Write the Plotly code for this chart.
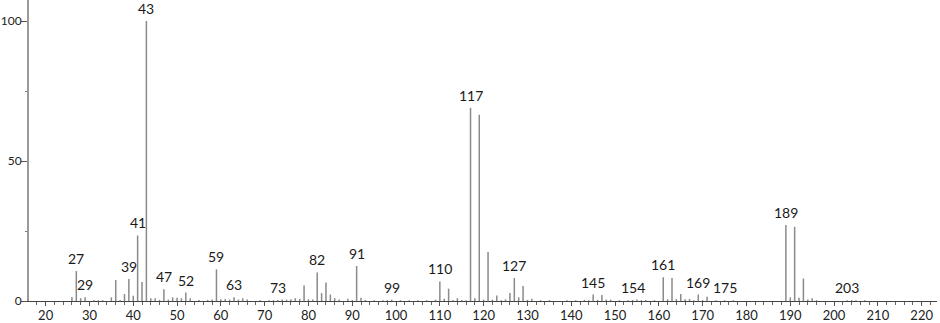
import plotly.graph_objects as go

mz = [26, 27, 28, 29, 31, 32, 33, 35, 36, 37, 38, 39, 40, 41, 42, 43, 44, 45, 46, 47, 48, 49, 50, 51, 52, 53,
      55, 57, 58, 59, 60, 61, 62, 63, 64, 65, 66, 69, 71, 72, 73, 74, 75, 76, 77, 78, 79, 80, 81, 82, 83, 84,
      85, 86, 87, 89, 90, 91, 92, 93, 95, 97, 98, 99, 101, 103, 105, 107, 109, 110, 111, 112, 113, 114, 115,
      116, 117, 118, 119, 120, 121, 122, 123, 124, 125, 126, 127, 128, 129, 130, 131, 133, 135, 139, 141, 143,
      144, 145, 146, 147, 148, 149, 151, 153, 154, 155, 156, 157, 159, 161, 162, 163, 164, 165, 166, 167, 168,
      169, 170, 171, 173, 175, 177, 189, 190, 191, 192, 193, 194, 195, 196, 203, 204, 205, 207]
intensity = [1.4, 10.7, 1.0, 1.3, 0.4, 0.3, 0.3, 1.3, 7.5, 0.4, 2.5, 7.9, 1.9, 23.4, 6.8, 100, 1.0, 1.0, 0.4, 4.2,
             0.5, 1.3, 1.2, 1.0, 3.0, 1.0, 0.4, 0.4, 0.5, 11.3, 0.6, 0.7, 0.5, 1.3, 0.5, 1.0, 0.5, 0.3, 0.3, 0.3,
             0.4, 0.5, 0.5, 0.6, 1.0, 0.8, 5.5, 0.6, 0.5, 10.2, 2.8, 6.6, 2.3, 1.0, 0.5, 0.8, 0.4, 12.5, 1.2, 0.4,
             0.3, 0.3, 0.3, 0.5, 0.3, 0.3, 0.3, 0.3, 0.5, 7.0, 0.8, 4.4, 0.4, 1.0, 0.4, 0.3, 69.0, 1.0, 66.5, 0.5,
             17.5, 0.5, 2.0, 0.3, 0.6, 2.9, 8.2, 1.3, 5.4, 0.4, 0.8, 0.3, 0.3, 0.3, 0.3, 0.4, 0.3, 2.3, 0.4, 2.1,
             0.5, 0.5, 0.3, 0.3, 0.4, 0.5, 0.3, 0.4, 0.3, 8.5, 0.6, 8.2, 0.7, 2.5, 0.6, 0.7, 0.3, 2.3, 0.3, 1.5,
             0.3, 0.3, 0.3, 27.1, 1.3, 26.5, 1.2, 8.0, 0.5, 1.0, 0.3, 0.3, 0.3, 0.3, 0.3]

labeled_mz = [27, 29, 39, 41, 43, 47, 52, 59, 63, 73, 82, 91, 99, 110, 117, 127, 145, 154, 161, 169, 175, 189, 203]

x_ticks = list(range(20, 221, 10))
y_ticks = [0, 50, 100]

# stick spectrum built from the data arrays
sx, sy = [], []
for m, v in zip(mz, intensity):
    sx += [m, m, None]
    sy += [0, v, None]

fig = go.Figure()
fig.add_trace(go.Scatter(x=sx, y=sy, mode="lines",
                         line=dict(color="#8a8a8a", width=1.5),
                         hoverinfo="skip", showlegend=False))

lookup = dict(zip(mz, intensity))
for m in labeled_mz:
    fig.add_annotation(x=m, y=lookup.get(m, 0), text=str(m), showarrow=False,
                       xanchor="center", yanchor="bottom", yshift=2,
                       font=dict(family="Lato, Noto Sans, sans-serif", size=14, color="#1a1a1a"))

fig.update_layout(
    width=940, height=323,
    margin=dict(l=29, r=3, t=0, b=22),
    paper_bgcolor="white", plot_bgcolor="white",
    showlegend=False,
)
fig.update_xaxes(
    range=[16.2, 223.5], tickvals=x_ticks, ticktext=[str(t) for t in x_ticks],
    showgrid=False, zeroline=False, automargin=False,
    showline=True, linecolor="#444444", linewidth=1,
    ticks="outside", ticklen=4, tickcolor="#555555", tickwidth=1,
    ticklabelstandoff=-2,
    minor=dict(dtick=2, tick0=0, ticks="outside", ticklen=3, tickcolor="#666666", tickwidth=1),
    tickfont=dict(family="Lato, Noto Sans, sans-serif", size=13, color="#222222"),
)
fig.update_yaxes(
    range=[0, 107.5], tickvals=y_ticks, ticktext=[str(t) for t in y_ticks],
    showgrid=False, zeroline=False, automargin=False,
    showline=True, linecolor="#999999", linewidth=2,
    ticks="outside", ticklen=6, tickcolor="#555555", tickwidth=1,
    ticklabelstandoff=-3,
    minor=dict(tickvals=[25, 75], ticks="outside", ticklen=2, tickcolor="#777777"),
    tickfont=dict(family="Lato, Noto Sans, sans-serif", size=12, color="#222222"),
)

fig.write_html("out.html")
